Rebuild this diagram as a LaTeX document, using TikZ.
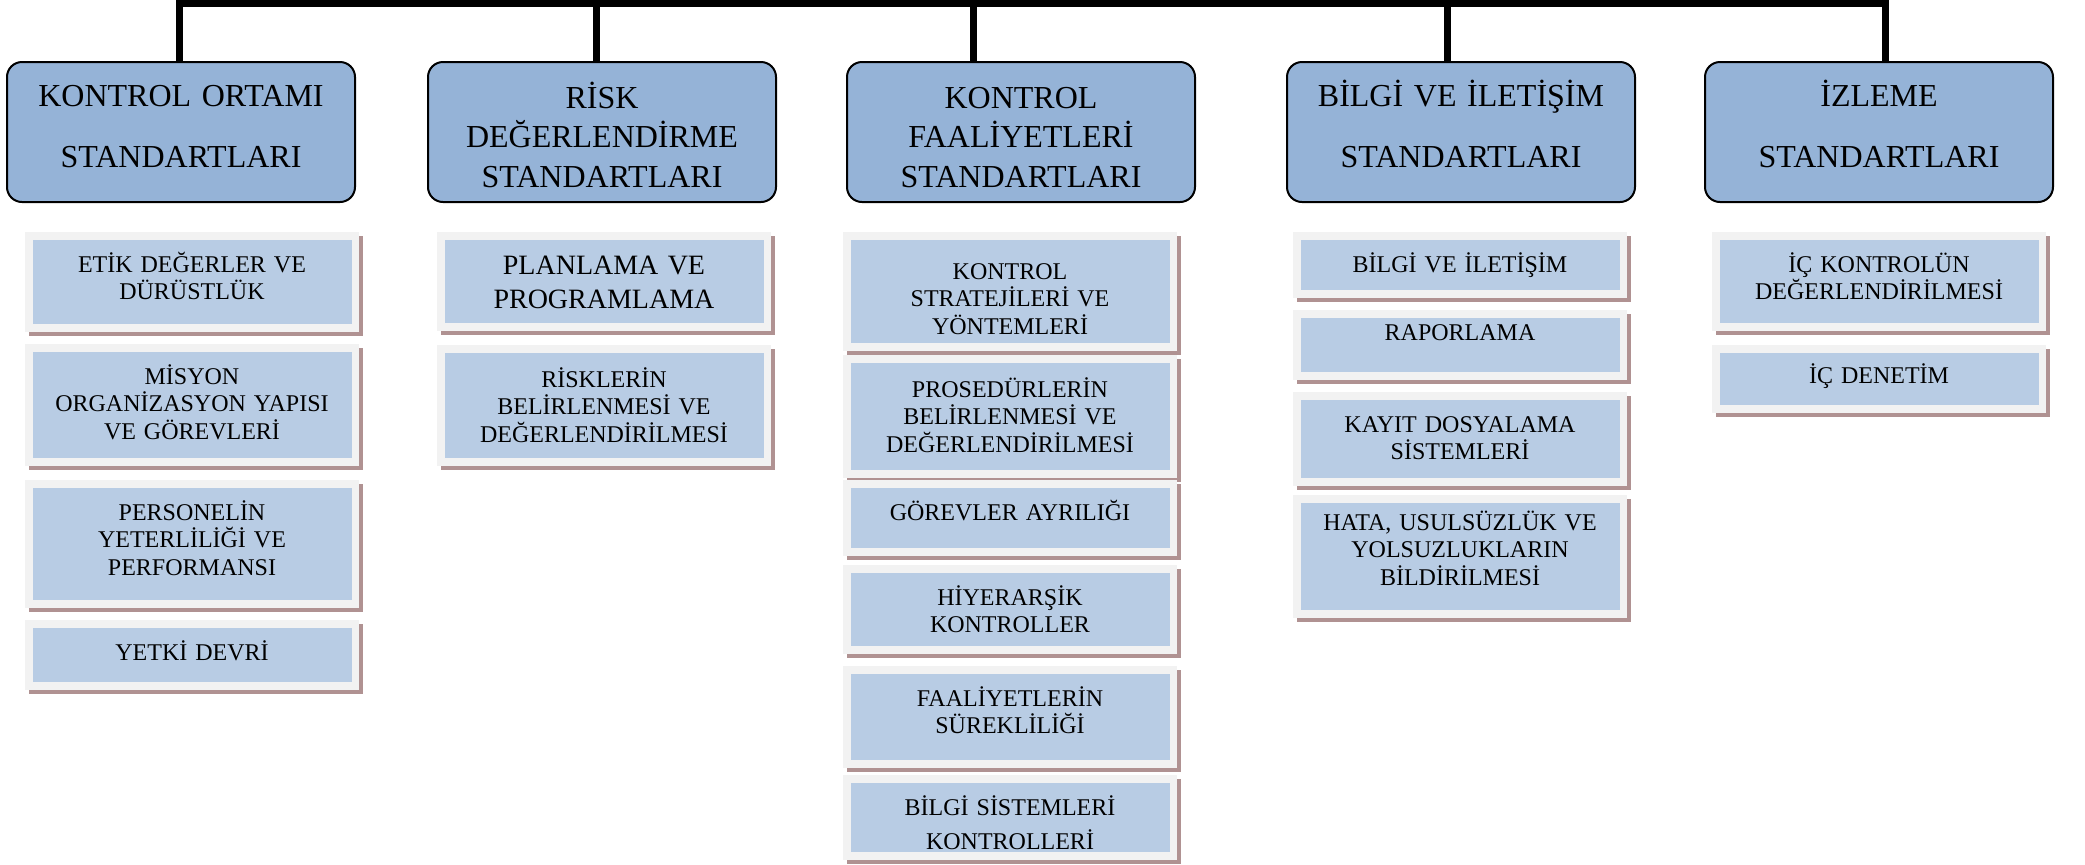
\documentclass[tikz,border=0pt]{standalone}
\usepackage{fontspec}
\setmainfont{Liberation Serif}
\usetikzlibrary{positioning,shadows}
\definecolor{hdrblue}{RGB}{149,179,215}
\definecolor{itemblue}{RGB}{184,204,228}
\definecolor{itemframe}{RGB}{242,242,242}
\definecolor{itemshadow}{RGB}{176,146,146}
\tikzset{
	hdr/.style={
		rectangle,
		rounded corners=7.5pt,
		draw=black, line width=1pt,
		fill=hdrblue,
		text width=174pt,
		inner sep=0pt, outer sep=0pt,
		text height=22pt,
		text depth=48pt,
		align=center,
		font=\fontsize{16pt}{19.75pt}\selectfont,
		anchor=north west},
	item/.style={
		rectangle,
		fill=itemframe,
		drop shadow={shadow xshift=2pt, shadow yshift=-2pt, fill=itemshadow, opacity=1},
		path picture={\fill[itemblue] ([shift={(4pt,-4pt)}]path picture bounding box.north west)
			rectangle ([shift={(-3.5pt,4pt)}]path picture bounding box.south east);},
		text width=167pt,
		inner sep=0pt, outer sep=0pt,
		text height=20pt,
		align=center,
		font=\fontsize{12pt}{13.8pt}\selectfont},
	bus/.style={draw=black, line width=3.5pt},
}
\begin{document}
\begin{tikzpicture}
	[x=0.5pt, y=-0.5pt,
	node distance=6pt]
\useasboundingbox (0,0) rectangle (2085,864);

\node[hdr] (hdr1) at (7,62) {KONTROL ORTAMI\\[10.75pt]STANDARTLARI};
\node[hdr, text height=23pt, text depth=47pt] (hdr2) at (428,62) {RİSK\\DEĞERLENDİRME\\STANDARTLARI};
\node[hdr, text height=23pt, text depth=47pt] (hdr3) at (847,62) {KONTROL\\FAALİYETLERİ\\STANDARTLARI};
\node[hdr] (hdr4) at (1287,62) {BİLGİ VE İLETİŞİM\\[10.75pt]STANDARTLARI};
\node[hdr] (hdr5) at (1705,62) {İZLEME\\[10.75pt]STANDARTLARI};

\coordinate (t1) at (179.5,3.5);
\coordinate (t2) at (596,3.5);
\coordinate (t3) at (973,3.5);
\coordinate (t4) at (1447,3.5);
\coordinate (t5) at (1885.5,3.5);
\draw[bus] (hdr1.north -| t1) -- (t1) -- (t5) -- (hdr5.north -| t5);
\foreach \i in {2,3,4}
	\draw[bus] (t\i) -- (hdr\i.north -| t\i);

\node[item, text depth=30pt, anchor=north west] (ko1) at (25,232) {ETİK DEĞERLER VE\\DÜRÜSTLÜK};
\node[item, text depth=41pt, below=of ko1] (ko2) {MİSYON\\ORGANİZASYON YAPISI\\VE GÖREVLERİ};
\node[item, text depth=44pt, below=7pt of ko2] (ko3) {PERSONELİN\\YETERLİLİĞİ VE\\PERFORMANSI};
\node[item, text depth=15pt, below=of ko3] (ko4) {YETKİ DEVRİ};

\node[item, text height=21pt, text depth=28.5pt, font=\fontsize{14pt}{17pt}\selectfont,
	anchor=north west] (rd1) at (437,232) {PLANLAMA VE\\PROGRAMLAMA};
\node[item, text height=21pt, text depth=39.5pt, below=7pt of rd1] (rd2) {RİSKLERİN\\BELİRLENMESİ VE\\DEĞERLENDİRİLMESİ};

\node[item, text height=23.5pt, text depth=36pt, anchor=north west] (kf1) at (843,232) {KONTROL\\STRATEJİLERİ VE\\YÖNTEMLERİ};
\node[item, text height=21pt, text depth=40.5pt, below=2pt of kf1] (kf2) {PROSEDÜRLERİN\\BELİRLENMESİ VE\\DEĞERLENDİRİLMESİ};
\node[item, text depth=18pt, below=1pt of kf2] (kf3) {GÖREVLER AYRILIĞI};
\node[item, text depth=24.5pt, below=4.5pt of kf3] (kf4) {HİYERARŞİK\\KONTROLLER};
\node[item, text depth=31pt, below=of kf4] (kf5) {FAALİYETLERİN\\SÜREKLİLİĞİ};
\node[item, text depth=22.5pt, below=3.5pt of kf5] (kf6) {BİLGİ SİSTEMLERİ\\[3.5pt]KONTROLLERİ};

\node[item, text depth=13pt, anchor=north west] (bi1) at (1293,232) {BİLGİ VE İLETİŞİM};
\node[item, text height=15pt, text depth=20pt, below=of bi1] (bi2) {RAPORLAMA};
\node[item, text depth=27pt, below=of bi2] (bi3) {KAYIT DOSYALAMA\\SİSTEMLERİ};
\node[item, text height=17.5pt, text depth=44pt, below=4.5pt of bi3] (bi4) {HATA, USULSÜZLÜK VE\\YOLSUZLUKLARIN\\BİLDİRİLMESİ};

\node[item, text depth=29.5pt, anchor=north west] (iz1) at (1712,232) {İÇ KONTROLÜN\\DEĞERLENDİRİLMESİ};
\node[item, text height=19pt, text depth=15pt, below=7pt of iz1] (iz2) {İÇ DENETİM};
\end{tikzpicture}
\end{document}
